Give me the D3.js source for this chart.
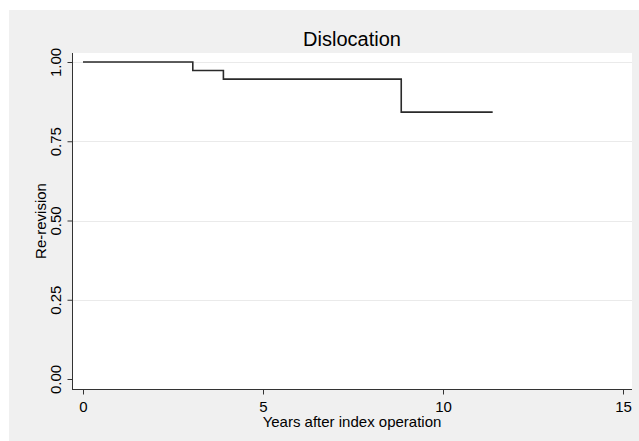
<!DOCTYPE html>
<html>
<head>
<meta charset="utf-8">
<script src="https://cdn.jsdelivr.net/npm/d3@7"></script>
<style>
  body { margin: 0; background: #fff; }
  text { font-family: Arial, "Liberation Sans", sans-serif; fill: #000; }
</style>
</head>
<body>
<div id="chart"></div>
<script>
// Kaplan-Meier style step data
var years = [0, 3.05, 3.9, 8.84, 11.38];
var survival = [1.00, 0.973, 0.946, 0.842, 0.842];
var xTicks = [0, 5, 10, 15];
var yTicks = [0, 0.25, 0.5, 0.75, 1];
var yGrid = [0.25, 0.5, 0.75, 1];

var W = 639, H = 441;
var plot = {left: 72, right: 632, top: 53, bottom: 389};

var svg = d3.select("#chart").append("svg")
  .attr("width", W)
  .attr("height", H);

// grey graph region
svg.append("rect")
  .attr("x", 9).attr("y", 10)
  .attr("width", W - 9).attr("height", H - 10)
  .attr("fill", "#f0f0f0");

// white plot region
svg.append("rect")
  .attr("x", plot.left).attr("y", plot.top)
  .attr("width", plot.right - plot.left).attr("height", plot.bottom - plot.top)
  .attr("fill", "#fff");

var x = d3.scaleLinear().domain([0, 15]).range([83, 623]);
var y = d3.scaleLinear().domain([0, 1]).range([379, 62]);

// grid lines
svg.append("g").selectAll("line")
  .data(yGrid)
  .enter()
  .append("line")
  .attr("x1", plot.left + 1)
  .attr("x2", plot.right)
  .attr("y1", function(d) { return Math.round(y(d)) + 0.5; })
  .attr("y2", function(d) { return Math.round(y(d)) + 0.5; })
  .style("stroke", "#eaeaea")
  .style("stroke-width", "1px");

// axes
var xAxis = d3.axisBottom(x).tickValues(xTicks).tickSize(5).tickPadding(7).tickFormat(d3.format("d"));
var yAxis = d3.axisLeft(y).tickValues(yTicks).tickSize(5).tickFormat(d3.format(".2f"));

var gx = svg.append("g")
  .attr("transform", "translate(0," + (plot.bottom + 0.5) + ")")
  .call(xAxis);
gx.select(".domain").remove();
gx.append("line")
  .attr("x1", plot.left).attr("x2", plot.right)
  .attr("y1", 0).attr("y2", 0)
  .style("stroke", "#333");
gx.selectAll(".tick line").style("stroke", "#333");
gx.selectAll(".tick text")
  .style("font-size", "15px")
  .style("font-family", "Arial, 'Liberation Sans', sans-serif")
  .attr("fill", "#000");

var gy = svg.append("g")
  .attr("transform", "translate(" + (plot.left + 0.5) + ",0)")
  .call(yAxis);
gy.select(".domain").remove();
gy.append("line")
  .attr("x1", 0).attr("x2", 0)
  .attr("y1", plot.top).attr("y2", plot.bottom)
  .style("stroke", "#333");
gy.selectAll(".tick line").style("stroke", "#333");
gy.selectAll(".tick text")
  .style("font-size", "15px")
  .style("font-family", "Arial, 'Liberation Sans', sans-serif")
  .attr("fill", "#000")
  .attr("text-anchor", "middle")
  .attr("dy", null)
  .attr("x", null)
  .attr("transform", "translate(-12,0) rotate(-90)");

// survival step line
var points = years.map(function(d, i) { return {t: d, s: survival[i]}; });
var line = d3.line()
  .curve(d3.curveStepAfter)
  .x(function(d) { return x(d.t); })
  .y(function(d) { return y(d.s); });

svg.append("path")
  .datum(points)
  .attr("d", line)
  .style("fill", "none")
  .style("stroke", "#2a2a2a")
  .style("stroke-width", "1.6px");

// titles
svg.append("text")
  .attr("x", (plot.left + plot.right) / 2)
  .attr("y", 46)
  .attr("text-anchor", "middle")
  .style("font-size", "20px")
  .text("Dislocation");

svg.append("text")
  .attr("x", (plot.left + plot.right) / 2)
  .attr("y", 427)
  .attr("text-anchor", "middle")
  .style("font-size", "15px")
  .text("Years after index operation");

svg.append("text")
  .attr("transform", "translate(46," + ((plot.top + plot.bottom) / 2) + ") rotate(-90)")
  .attr("text-anchor", "middle")
  .style("font-size", "15px")
  .text("Re-revision");
</script>
</body>
</html>
